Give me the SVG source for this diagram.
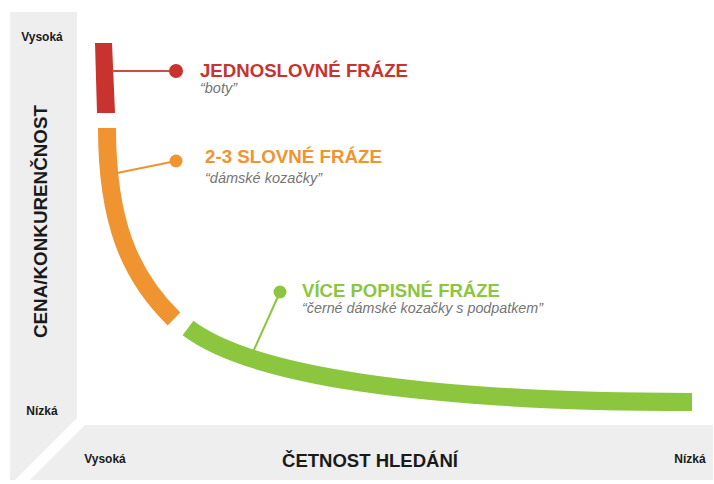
<svg xmlns="http://www.w3.org/2000/svg" width="714" height="484" viewBox="0 0 714 484">
<style>
.panel{fill:#eeeeee}
.ax{font-family:"Liberation Sans",Arial,sans-serif;font-weight:bold;fill:#1a1a1a}
.small{font-size:12px}
.big{font-size:18px}
.head{font-family:"Liberation Sans",Arial,sans-serif;font-weight:bold;font-size:18px}
.ex{font-family:"Liberation Sans",Arial,sans-serif;font-style:italic;font-size:14px;fill:#757575}
.band{fill:none;stroke-width:18;stroke-linecap:butt}
.red{fill:#c8332f}
.org{fill:#ef9430}
.grn{fill:#8cc63f}
</style>
<rect width="714" height="484" fill="#ffffff"/>
<g id="axes">
<polygon class="panel" points="10,12 77,12 77,418 15,480 10,480"/>
<polygon class="panel" points="85,425 713,425 713,480 30,480"/>
<text class="ax small" x="42" y="41" text-anchor="middle">Vysoká</text>
<text class="ax small" x="42" y="415" text-anchor="middle">Nízká</text>
<text class="ax small" x="105" y="463" text-anchor="middle">Vysoká</text>
<text class="ax small" x="690" y="463" text-anchor="middle">Nízká</text>
<text class="ax big" x="370" y="467" text-anchor="middle" textLength="176" lengthAdjust="spacingAndGlyphs">ČETNOST HLEDÁNÍ</text>
<text class="ax big" transform="translate(47,221.5) rotate(-90)" text-anchor="middle" textLength="233" lengthAdjust="spacingAndGlyphs">CENA/KONKURENČNOST</text>
</g>
<g id="curve">
<polygon class="red" points="95,43 112,43 115,113 97,113"/>
<path class="band" stroke="#ef9430" d="M107,128 C107,222 130,276 174,319"/>
<path class="band" stroke="#8cc63f" d="M188,328 C250,375 420,402 692,402"/>
</g>
<g id="connectors">
<line x1="112" y1="71" x2="176" y2="71" stroke="#d04a46" stroke-width="2"/>
<line x1="117" y1="173" x2="176" y2="161" stroke="#ef9430" stroke-width="2"/>
<line x1="253" y1="352" x2="280" y2="292" stroke="#8cc63f" stroke-width="2"/>
</g>
<g id="node-jednoslovne">
<circle class="red" cx="176" cy="71" r="7"/>
<text class="head" x="200" y="77" fill="#c8332f" textLength="208" lengthAdjust="spacingAndGlyphs">JEDNOSLOVNÉ FRÁZE</text>
<text class="ex" x="200" y="93" textLength="37" lengthAdjust="spacingAndGlyphs">“boty”</text>
</g>
<g id="node-slovne">
<circle class="org" cx="176" cy="161" r="6.5"/>
<text class="head" x="205" y="163" fill="#ef9430" textLength="177" lengthAdjust="spacingAndGlyphs">2-3 SLOVNÉ FRÁZE</text>
<text class="ex" x="205" y="183" textLength="117" lengthAdjust="spacingAndGlyphs">“dámské kozačky”</text>
</g>
<g id="node-popisne">
<circle class="grn" cx="280" cy="292" r="6.5"/>
<text class="head" x="302" y="297" fill="#8cc63f" textLength="198" lengthAdjust="spacingAndGlyphs">VÍCE POPISNÉ FRÁZE</text>
<text class="ex" x="302" y="313" textLength="241" lengthAdjust="spacingAndGlyphs">“černé dámské kozačky s podpatkem”</text>
</g>
</svg>
